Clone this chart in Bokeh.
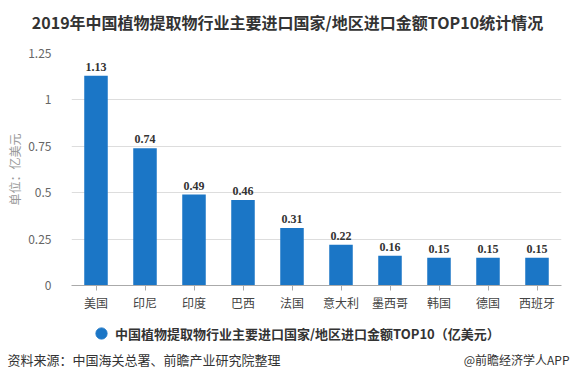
import math
from bokeh.plotting import figure
from bokeh.models import (ColumnDataSource, Range1d, FactorRange, FixedTicker, LabelSet,
                          Label, Legend, LegendItem)
from bokeh.embed import file_html
from bokeh.resources import INLINE

categories = ["美国", "印尼", "印度", "巴西", "法国", "意大利", "墨西哥", "韩国", "德国", "西班牙"]
values = [1.13, 0.74, 0.49, 0.46, 0.31, 0.22, 0.16, 0.15, 0.15, 0.15]
y_ticks = [0, 0.25, 0.5, 0.75, 1, 1.25]
y_tick_labels = ["0", "0.25", "0.5", "0.75", "1", "1.25"]

title_text = "2019年中国植物提取物行业主要进口国家/地区进口金额TOP10统计情况"
y_label_text = "单位：亿美元"
legend_text = "中国植物提取物行业主要进口国家/地区进口金额TOP10（亿美元）"
source_text = "资料来源：中国海关总署、前瞻产业研究院整理"
brand_text = "@前瞻经济学人APP"

FONT = "Noto Sans CJK SC"
NUM_FONT = "Roboto"
BAR_COLOR = "#1b76c6"
W = 573

# ---------- header (title) ----------
HEADER_H = 40
header = figure(width=W, height=HEADER_H, output_backend="svg", toolbar_location=None,
                x_range=Range1d(0, W), y_range=Range1d(0, HEADER_H),
                x_axis_type=None, y_axis_type=None, min_border=0)
header.outline_line_color = None
header.grid.grid_line_color = None
header.add_layout(Label(x=287, y=HEADER_H - 21, x_units="screen", y_units="screen",
                        text=title_text, text_align="center", text_baseline="middle",
                        text_font=FONT, text_font_size="16px", text_font_style="bold",
                        text_color="#333333"))

# ---------- main chart ----------
src = ColumnDataSource(dict(cat=categories, val=values,
                            lab=["%.2f" % v for v in values]))

p = figure(width=W, height=278, output_backend="svg", toolbar_location=None,
           x_range=FactorRange(factors=categories), y_range=Range1d(0, 1.25),
           min_border_left=71, min_border_right=12, min_border_top=13, min_border_bottom=33)
p.outline_line_color = None

p.vbar(x="cat", top="val", width=0.48, source=src, color=BAR_COLOR, line_color=None)

p.add_layout(LabelSet(x="cat", y="val", text="lab", source=src, y_offset=5,
                      text_align="center", text_baseline="bottom",
                      text_font=NUM_FONT, text_font_size="12px", text_font_style="bold",
                      text_color="#333333"))

p.xgrid.grid_line_color = None
p.ygrid.grid_line_color = "#dddddd"
p.ygrid.ticker = FixedTicker(ticks=y_ticks)

p.yaxis.ticker = FixedTicker(ticks=y_ticks)
p.yaxis.major_label_overrides = {t: l for t, l in zip(y_ticks, y_tick_labels)}
p.yaxis.axis_line_color = None
p.yaxis.major_tick_line_color = None
p.yaxis.minor_tick_line_color = None
p.yaxis.major_label_standoff = 14
p.yaxis.major_label_text_font = FONT
p.yaxis.major_label_text_font_size = "12px"
p.yaxis.major_label_text_color = "#666666"
p.yaxis.axis_label = y_label_text
p.yaxis.axis_label_standoff = 2
p.yaxis.axis_label_text_font = FONT
p.yaxis.axis_label_text_font_size = "12px"
p.yaxis.axis_label_text_font_style = "normal"
p.yaxis.axis_label_text_color = "#999999"

p.xaxis.axis_line_color = "#aaaaaa"
p.xaxis.major_tick_line_color = "#aaaaaa"
p.xaxis.major_tick_out = 5
p.xaxis.major_tick_in = 0
p.xaxis.major_label_standoff = 3
p.xaxis.major_label_text_font = FONT
p.xaxis.major_label_text_font_size = "12px"
p.xaxis.major_label_text_color = "#444444"

# ---------- footer (legend + source) ----------
FOOTER_H = 67
footer = figure(width=W, height=FOOTER_H, output_backend="svg", toolbar_location=None,
                x_range=Range1d(0, W), y_range=Range1d(0, FOOTER_H),
                x_axis_type=None, y_axis_type=None, min_border=0)
footer.outline_line_color = None
footer.grid.grid_line_color = None
# legend-only renderer (no visible point)
dummy = footer.scatter(x=[float("nan")], y=[float("nan")], marker="circle",
                       fill_color=BAR_COLOR, line_color=BAR_COLOR)
legend = Legend(items=[LegendItem(label=legend_text, renderers=[dummy])],
                location=(87, 38), orientation="horizontal",
                padding=0, margin=0, spacing=0, glyph_width=28, glyph_height=28,
                label_height=28, label_standoff=0,
                label_text_font=FONT, label_text_font_size="13px",
                label_text_font_style="bold", label_text_color="#333333",
                border_line_color=None, background_fill_alpha=0)
footer.add_layout(legend)
footer.add_layout(Label(x=7, y=26, x_units="screen", y_units="screen", text=source_text,
                        text_align="left", text_baseline="middle", text_font=FONT,
                        text_font_size="13px", text_color="#333333"))
footer.add_layout(Label(x=569, y=26, x_units="screen", y_units="screen", text=brand_text,
                        text_align="right", text_baseline="middle", text_font=FONT,
                        text_font_size="12px", text_color="#333333"))

open("out.html", "w").write(file_html([header, p, footer], INLINE))
